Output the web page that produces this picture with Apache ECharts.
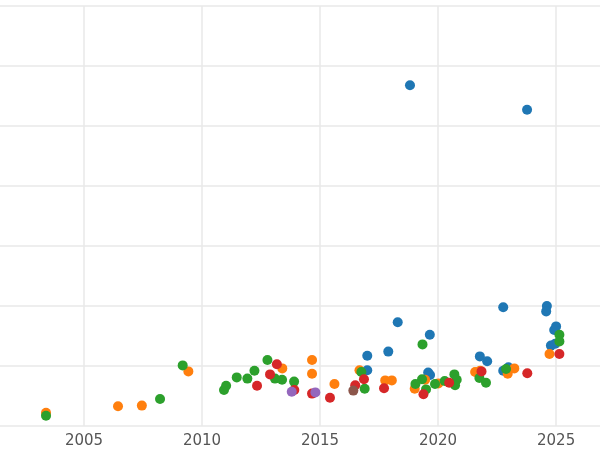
<!DOCTYPE html>
<html>
<head>
<meta charset="utf-8">
<script src="https://cdn.jsdelivr.net/npm/echarts@6/dist/echarts.min.js"></script>
<style>html,body{margin:0;background:#fff}#c{width:600px;height:450px}</style>
</head>
<body>
<div id="c"></div>
<script>
// points as [year, value]
const blue = [[2018.29,1.73],[2019.65,1.52],[2017.00,1.17],[2017.89,1.24],[2022.76,1.98],[2024.61,2.00],[2024.58,1.91],[2025.00,1.66],[2024.92,1.60],[2024.78,1.34],[2024.96,1.37],[2021.77,1.16],[2022.08,1.08],[2017.00,0.93],[2019.58,0.89],[2019.66,0.85],[2022.76,0.92],[2022.98,0.98],[2018.81,5.68],[2023.77,5.27]]
const orange = [[2003.39,0.22],[2006.44,0.33],[2007.45,0.34],[2009.42,0.91],[2013.40,0.96],[2014.66,1.10],[2014.66,0.87],[2015.61,0.70],[2016.67,0.93],[2017.76,0.76],[2018.04,0.76],[2019.01,0.62],[2019.45,0.77],[2020.01,0.71],[2021.57,0.90],[2021.78,0.92],[2022.95,0.87],[2023.23,0.96],[2024.72,1.20]]
const green = [[2003.39,0.17],[2008.22,0.45],[2009.18,1.01],[2010.93,0.60],[2011.02,0.67],[2011.47,0.81],[2011.92,0.79],[2012.22,0.92],[2012.77,1.10],[2013.09,0.79],[2013.39,0.77],[2013.90,0.74],[2019.34,1.36],[2025.14,1.52],[2025.14,1.41],[2016.75,0.90],[2016.89,0.62],[2019.32,0.78],[2019.04,0.70],[2019.49,0.61],[2019.87,0.70],[2020.28,0.75],[2020.69,0.86],[2020.79,0.77],[2020.72,0.68],[2021.75,0.80],[2022.03,0.72],[2022.88,0.95]]
const red = [[2013.17,1.03],[2012.88,0.86],[2012.33,0.67],[2013.91,0.60],[2014.66,0.54],[2015.42,0.47],[2016.86,0.78],[2016.49,0.68],[2017.71,0.63],[2019.38,0.53],[2020.47,0.72],[2021.84,0.91],[2023.78,0.88],[2025.14,1.20]]
const purple = [[2013.80,0.57],[2014.80,0.56]]
const brown = [[2016.41,0.59]]
const yearTicks = [2005, 2010, 2015, 2020, 2025]

const groups = [blue, orange, green, red, purple, brown]
const colors = ['#1f77b4','#ff7f0e','#2ca02c','#d62728','#9467bd','#8c564b']

const chart = echarts.init(document.getElementById('c'))
const series = groups.map((d, i) => ({
  type: 'scatter', data: d, symbolSize: 10, z: 3,
  itemStyle: { color: colors[i], opacity: 1 }
}))
// vertical grid lines at the year ticks
series[0].markLine = {
  silent: true, symbol: 'none', label: { show: false }, z: 1,
  lineStyle: { color: '#e8e8e8', width: 1.5, type: 'solid' },
  data: yearTicks.map(y => ({ xAxis: y }))
}
chart.setOption({
  animation: false,
  grid: { left: 0, right: 0, top: 6, bottom: 24 },
  xAxis: {
    type: 'value', min: 2001.44, max: 2026.86,
    axisLine: { show: false }, axisTick: { show: false },
    axisLabel: { color: '#555', fontSize: 15, fontFamily: 'DejaVu Sans', margin: 8,
      customValues: yearTicks, formatter: v => String(v) },
    splitLine: { show: false }
  },
  yAxis: {
    type: 'value', min: 0, max: 7, interval: 1,
    axisLine: { show: false }, axisTick: { show: false }, axisLabel: { show: false },
    splitLine: { lineStyle: { color: '#e8e8e8', width: 1.5 } }
  },
  series
})
</script>
</body>
</html>
